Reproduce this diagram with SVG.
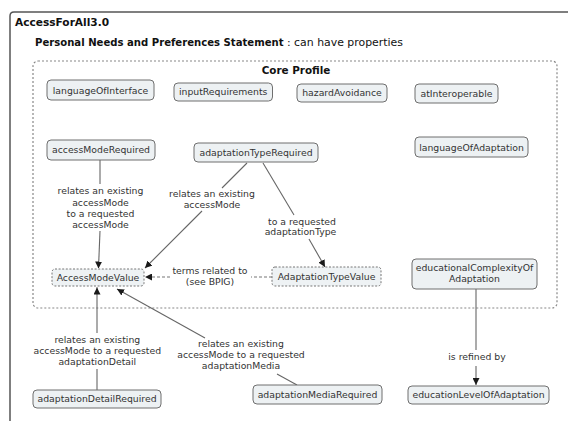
<svg xmlns="http://www.w3.org/2000/svg" width="568" height="421" viewBox="0 0 568 421">
<defs>
<marker id="arr" viewBox="0 0 8 8" refX="8" refY="4" markerWidth="7" markerHeight="7" markerUnits="userSpaceOnUse" orient="auto">
<path d="M0,0 L8,4 L0,8 z" fill="#1a1a1a"/>
</marker>
<style>
text{font-family:"DejaVu Sans",Verdana,sans-serif;fill:#333;}
.t{font-size:9.3px;text-anchor:middle;}
.node rect{fill:#edf1f3;stroke:#6f6f6f;stroke-width:1;}
.dnode rect{fill:#eef2f4;stroke:#777;stroke-width:1;stroke-dasharray:2 1.6;}
.e{stroke:#666;stroke-width:1.1;fill:none;}
.d{stroke:#777;stroke-width:1.1;fill:none;stroke-dasharray:3 2;}
</style>
</defs>
<rect width="568" height="421" fill="#fff"/>
<path d="M10,421 V16 Q10,12 14,12 H568" fill="none" stroke="#555" stroke-width="1.5"/>
<text x="15" y="26" style="font-size:10.6px;font-weight:bold;fill:#111">AccessForAll3.0</text>
<text x="35" y="46" style="font-size:10.1px;font-weight:bold;fill:#111">Personal Needs and Preferences Statement<tspan style="font-weight:normal;font-size:10.9px"> : can have properties</tspan></text>
<g id="coreProfile">
<rect x="33" y="61" width="524" height="247" rx="5" fill="none" stroke="#888" stroke-width="1.2" stroke-dasharray="2 2"/>
<text x="296" y="74" style="font-size:10.4px;font-weight:bold;fill:#111;text-anchor:middle">Core Profile</text>
</g>
<g id="connectors">
<line class="e" x1="100" y1="160" x2="100" y2="184"/>
<line class="e" x1="100" y1="231" x2="98.5" y2="268"/>
<text class="t" x="100.5" y="194">relates an existing</text>
<text class="t" x="100.5" y="205.5">accessMode</text>
<text class="t" x="100.5" y="216.5">to a requested</text>
<text class="t" x="100.5" y="227.5">accessMode</text>
<line class="e" x1="247" y1="163" x2="222" y2="188"/>
<line class="e" x1="202" y1="211" x2="145" y2="268"/>
<text class="t" x="212" y="197">relates an existing</text>
<text class="t" x="212" y="207.5">accessMode</text>
<line class="e" x1="263" y1="163" x2="294" y2="215"/>
<line class="e" x1="309" y1="239" x2="325" y2="267"/>
<text class="t" x="302" y="224.5">to a requested</text>
<text class="t" x="300.5" y="235">adaptationType</text>
<line class="d" x1="272" y1="277" x2="251" y2="277"/>
<line class="d" x1="170" y1="277" x2="145" y2="277"/>
<text class="t" x="210" y="273.5">terms related to</text>
<text class="t" x="210" y="284.5">(see BPIG)</text>
<line class="e" x1="97" y1="390" x2="97" y2="369"/>
<line class="e" x1="97" y1="333" x2="97" y2="287"/>
<text class="t" x="97.3" y="343">relates an existing</text>
<text class="t" x="97.3" y="354">accessMode to a requested</text>
<text class="t" x="97.3" y="365">adaptationDetail</text>
<line class="e" x1="297" y1="385" x2="277" y2="374"/>
<line class="e" x1="205" y1="338" x2="117" y2="289"/>
<text class="t" x="241" y="347">relates an existing</text>
<text class="t" x="241" y="358">accessMode to a requested</text>
<text class="t" x="241" y="369">adaptationMedia</text>
<line class="e" x1="476" y1="289" x2="476" y2="350"/>
<line class="e" x1="476" y1="366" x2="476" y2="385"/>
<text class="t" x="477" y="359.5">is refined by</text>
</g>
<g id="arrowheads">
<line x1="98.6" y1="262" x2="98.5" y2="268.5" stroke="none" marker-end="url(#arr)"/>
<line x1="150" y1="263" x2="145" y2="268" stroke="none" marker-end="url(#arr)"/>
<line x1="321" y1="260" x2="325" y2="267" stroke="none" marker-end="url(#arr)"/>
<line x1="152" y1="277" x2="145" y2="277" stroke="none" marker-end="url(#arr)"/>
<line x1="97" y1="294" x2="97" y2="287.5" stroke="none" marker-end="url(#arr)"/>
<line x1="123" y1="292.4" x2="117" y2="289" stroke="none" marker-end="url(#arr)"/>
<line x1="476" y1="378" x2="476" y2="385" stroke="none" marker-end="url(#arr)"/>
</g>
<g id="languageOfInterface" class="node"><rect x="47" y="80" width="107" height="20" rx="4"/><text class="t" x="100.5" y="93.5">languageOfInterface</text></g>
<g id="inputRequirements" class="node"><rect x="174" y="83" width="98.5" height="18" rx="4"/><text class="t" x="223.2" y="95">inputRequirements</text></g>
<g id="hazardAvoidance" class="node"><rect x="297" y="84" width="90" height="18" rx="4"/><text class="t" x="342" y="96">hazardAvoidance</text></g>
<g id="atInteroperable" class="node"><rect x="415" y="84" width="83" height="19" rx="4"/><text class="t" x="456.5" y="96.5">atInteroperable</text></g>
<g id="accessModeRequired" class="node"><rect x="47" y="140" width="108" height="20" rx="4"/><text class="t" x="101" y="153">accessModeRequired</text></g>
<g id="adaptationTypeRequired" class="node"><rect x="194" y="143" width="124" height="19" rx="4"/><text class="t" x="256" y="156">adaptationTypeRequired</text></g>
<g id="languageOfAdaptation" class="node"><rect x="415" y="137" width="113" height="20" rx="4"/><text class="t" x="471.5" y="150.5">languageOfAdaptation</text></g>
<g id="AccessModeValue" class="dnode"><rect x="52" y="269" width="92" height="17" rx="3"/><text class="t" x="98" y="281">AccessModeValue</text></g>
<g id="AdaptationTypeValue" class="dnode"><rect x="272" y="267" width="109" height="19" rx="3"/><text class="t" x="326.5" y="280">AdaptationTypeValue</text></g>
<g id="educationalComplexityOfAdaptation" class="node"><rect x="412" y="259" width="125" height="30" rx="4"/><text class="t" x="474.5" y="271">educationalComplexityOf</text><text class="t" x="474.5" y="282">Adaptation</text></g>
<g id="adaptationDetailRequired" class="node"><rect x="33" y="390" width="128" height="18" rx="4"/><text class="t" x="97" y="402">adaptationDetailRequired</text></g>
<g id="adaptationMediaRequired" class="node"><rect x="253" y="385" width="129" height="19" rx="4"/><text class="t" x="317.5" y="398">adaptationMediaRequired</text></g>
<g id="educationLevelOfAdaptation" class="node"><rect x="408" y="386" width="141" height="18" rx="4"/><text class="t" x="478.5" y="398">educationLevelOfAdaptation</text></g>
</svg>
